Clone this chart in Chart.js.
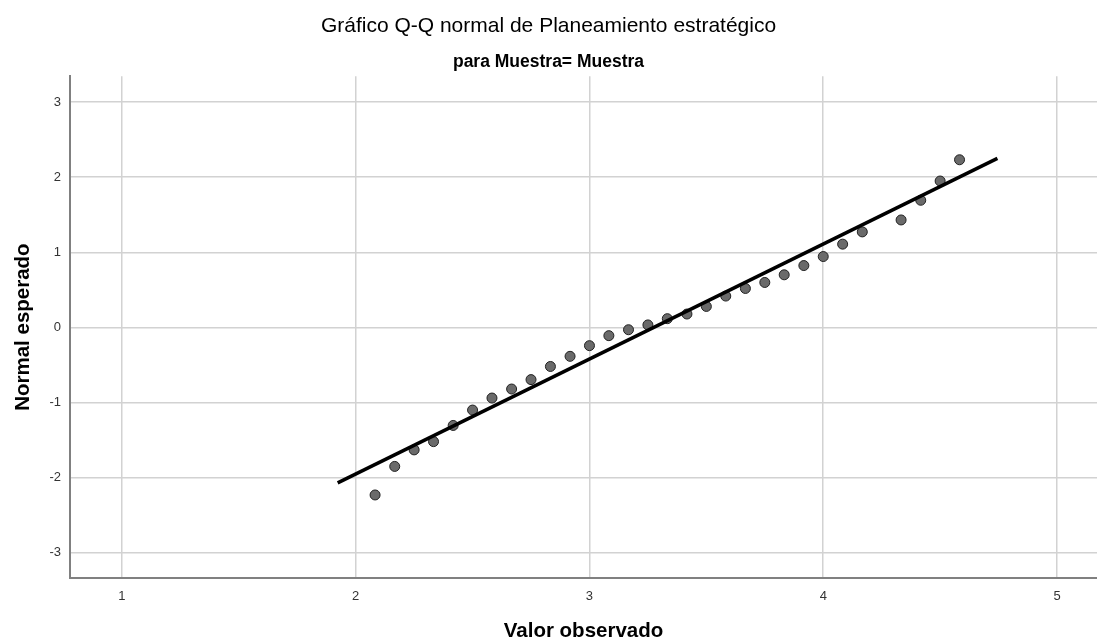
<!DOCTYPE html>
<html>
<head>
<meta charset="utf-8">
<script src="https://cdn.jsdelivr.net/npm/chart.js@4"></script>
<style>
  html, body { margin: 0; padding: 0; background: #ffffff; }
  #wrap { width: 1097px; height: 644px; }
</style>
</head>
<body>
<div id="wrap"><canvas id="c" width="1097" height="644"></canvas></div>
<script>
// Observed values (x) and expected normal values (y)
const observed = [2.083, 2.167, 2.25, 2.333, 2.417, 2.5, 2.583, 2.667, 2.75, 2.833,
                  2.917, 3.0, 3.083, 3.167, 3.25, 3.333, 3.417, 3.5, 3.583, 3.667,
                  3.75, 3.833, 3.917, 4.0, 4.083, 4.167, 4.333, 4.417, 4.5, 4.583];
const expectedNormal = [-2.23, -1.85, -1.63, -1.52, -1.305, -1.10, -0.94, -0.82, -0.695, -0.52,
                        -0.385, -0.243, -0.11, -0.031, 0.033, 0.116, 0.178, 0.279, 0.417, 0.518,
                        0.598, 0.70, 0.823, 0.943, 1.108, 1.271, 1.43, 1.692, 1.948, 2.231];
// Reference line endpoints
const lineX = [1.923, 4.745];
const lineY = [-2.07, 2.25];
// Ticks
const xTicks = [1, 2, 3, 4, 5];
const yTicks = [-3, -2, -1, 0, 1, 2, 3];

const titleText = 'Gráfico Q-Q normal de Planeamiento estratégico';
const subtitleText = 'para Muestra= Muestra';
const xTitle = 'Valor observado';
const yTitle = 'Normal esperado';

const pts = observed.map((x, i) => ({ x: x, y: expectedNormal[i] }));
const linePts = lineX.map((x, i) => ({ x: x, y: lineY[i] }));

const bg = {
  id: 'bg',
  beforeDraw(chart) {
    const ctx = chart.ctx;
    ctx.save();
    ctx.fillStyle = '#ffffff';
    ctx.fillRect(0, 0, chart.width, chart.height);
    ctx.restore();
  }
};

const FONT = "'Liberation Sans', Arial, sans-serif";

new Chart(document.getElementById('c'), {
  type: 'scatter',
  data: {
    datasets: [
      {
        label: 'line',
        type: 'line',
        data: linePts,
        borderColor: '#000000',
        borderWidth: 3.5,
        pointRadius: 0,
        fill: false,
        order: 0
      },
      {
        label: 'points',
        data: pts,
        backgroundColor: '#6a6a6a',
        borderColor: '#222222',
        borderWidth: 1,
        pointRadius: 5,
        order: 1
      }
    ]
  },
  options: {
    responsive: false,
    animation: false,
    layout: { autoPadding: false, padding: { left: 0, right: 0, top: 0, bottom: 0 } },
    plugins: {
      legend: { display: false },
      tooltip: { enabled: false },
      title: {
        display: true,
        text: titleText,
        color: '#000000',
        font: { family: FONT, size: 21, weight: 'normal', lineHeight: 1.2 },
        padding: { top: 14, bottom: 12.6 }
      },
      subtitle: {
        display: true,
        text: subtitleText,
        color: '#000000',
        font: { family: FONT, size: 17.5, weight: 'bold', lineHeight: 1.2 },
        padding: { top: 0, bottom: 3.4 }
      }
    },
    scales: {
      x: {
        type: 'linear',
        min: 0.778,
        max: 5.171,
        afterBuildTicks(scale) { scale.ticks = xTicks.map(v => ({ value: v })); },
        afterFit(scale) { scale.height = 66; },
        grid: { color: '#d2d2d2', lineWidth: 1.5, drawTicks: false },
        border: { color: '#808080', width: 2 },
        ticks: {
          color: '#333333',
          padding: 11,
          font: { family: FONT, size: 13 },
          callback: v => String(v)
        },
        title: {
          display: true,
          text: xTitle,
          color: '#000000',
          font: { family: FONT, size: 20.5, weight: 'bold' },
          padding: { top: 15, bottom: 0 }
        }
      },
      y: {
        type: 'linear',
        min: -3.335,
        max: 3.343,
        afterBuildTicks(scale) { scale.ticks = yTicks.map(v => ({ value: v })); },
        afterFit(scale) { scale.width = 70; },
        grid: { color: '#d2d2d2', lineWidth: 1.5, drawTicks: false },
        border: { color: '#808080', width: 2 },
        ticks: {
          color: '#333333',
          padding: 9,
          font: { family: FONT, size: 13 },
          callback: v => String(v)
        },
        title: {
          display: true,
          text: yTitle,
          color: '#000000',
          font: { family: FONT, size: 20.5, weight: 'bold' },
          padding: { top: 11, bottom: 0 }
        }
      }
    }
  },
  plugins: [bg]
});
</script>
</body>
</html>
